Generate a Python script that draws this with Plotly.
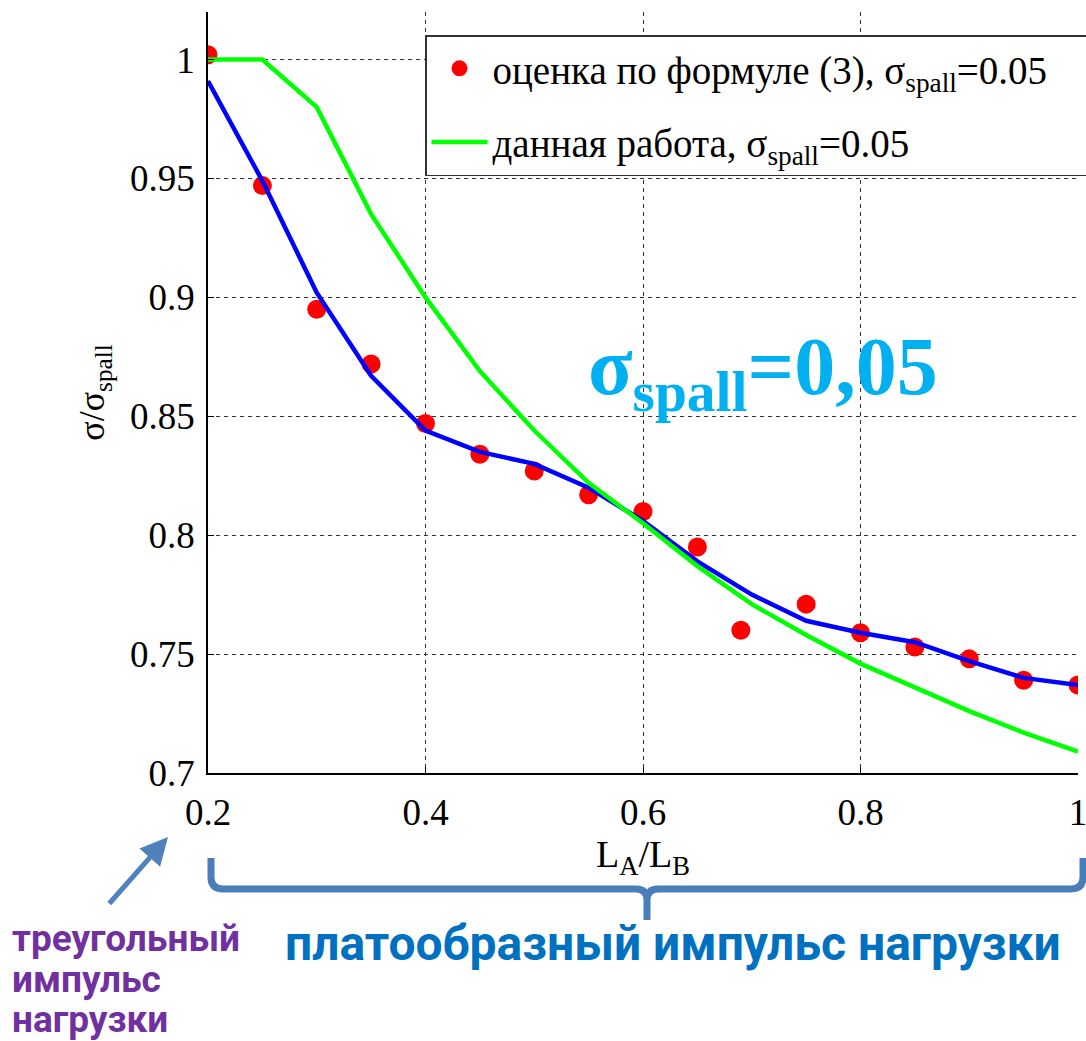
import plotly.graph_objects as go

# ---------------- data ----------------
x_est = [0.2, 0.25, 0.3, 0.35, 0.4, 0.45, 0.5, 0.55, 0.6, 0.65, 0.69, 0.75, 0.8, 0.85, 0.9, 0.95, 1.0]
y_est = [1.002, 0.947, 0.895, 0.872, 0.847, 0.834, 0.827, 0.817, 0.810, 0.795, 0.760, 0.771, 0.759, 0.753, 0.748, 0.739, 0.737]

x_line = [0.2, 0.25, 0.3, 0.35, 0.4, 0.45, 0.5, 0.55, 0.6, 0.65, 0.7, 0.75, 0.8, 0.85, 0.9, 0.95, 1.0]
y_blue = [0.991, 0.949, 0.902, 0.867, 0.844, 0.835, 0.830, 0.820, 0.806, 0.789, 0.775, 0.764, 0.759, 0.755, 0.747, 0.740, 0.737]
y_green = [1.0, 1.0, 0.980, 0.935, 0.900, 0.869, 0.844, 0.822, 0.805, 0.787, 0.771, 0.758, 0.746, 0.736, 0.726, 0.717, 0.709]

name_est = "оценка по формуле (3), σ<sub>spall</sub>=0.05&nbsp;&nbsp;&nbsp;&nbsp;"
name_green = "данная работа, σ<sub>spall</sub>=0.05"

# ---------------- layout helpers (pixel -> paper) ----------------
W, H = 1086, 1041
L, R, T, B = 208, 8, 12, 268
PW, PH = W - L - R, H - T - B


def px(x):
    return (x - L) / PW


def py(y):
    return (H - B - y) / PH


SERIF = "Liberation Serif"
SANS = "Roboto"

fig = go.Figure()
fig.add_trace(go.Scatter(
    x=x_est, y=y_est, mode="markers", name=name_est,
    marker=dict(color="#FF0000", size=19, line=dict(width=0)),
    legendgroup="a",
))
fig.add_trace(go.Scatter(
    x=x_line, y=y_blue, mode="lines", showlegend=False,
    line=dict(color="#0000FF", width=4.5),
))
fig.add_trace(go.Scatter(
    x=x_line, y=y_green, mode="lines", name=name_green,
    line=dict(color="#00FF00", width=4.5),
    legendgroup="b",
))

axis_common = dict(
    showline=True, linecolor="black", linewidth=1.5, mirror=False,
    showgrid=True, gridcolor="#333333", gridwidth=1, griddash="4px,4px",
    zeroline=False, ticks="inside", ticklen=6, tickcolor="black",
    tickfont=dict(family=SERIF, size=37, color="black"),
    ticklabeloverflow="allow", automargin=False,
)

fig.update_xaxes(
    range=[0.2, 1.0], dtick=0.2, tick0=0.2,
    title=dict(text="L<sub>A</sub>/L<sub>B</sub>", font=dict(family=SERIF, size=38, color="black"), standoff=6),
    ticklabelstandoff=6,
    **axis_common,
)
fig.update_yaxes(
    range=[0.7, 1.02], dtick=0.05, tick0=0.7,
    title=dict(text="σ/σ<sub>spall</sub>", font=dict(family=SERIF, size=36, color="black"), standoff=14),
    ticklabelstandoff=4,
    **axis_common,
)

fig.update_layout(
    width=W, height=H,
    margin=dict(l=L, r=R, t=T, b=B, autoexpand=False),
    paper_bgcolor="white", plot_bgcolor="white",
    legend=dict(
        x=px(425), y=py(35), xanchor="left", yanchor="top",
        bgcolor="white", bordercolor="#333333", borderwidth=1.5,
        font=dict(family=SERIF, size=39, color="black"),
        traceorder="grouped", tracegroupgap=20,
        itemwidth=56,
    ),
    shapes=[
        dict(
            type="path", xref="paper", yref="paper",
            path=(
                f"M {px(211)},{py(858)} L {px(211)},{py(877)} "
                f"Q {px(211)},{py(889)} {px(223)},{py(889)} "
                f"L {px(636)},{py(889)} Q {px(647)},{py(889)} {px(647)},{py(900)} "
                f"L {px(647)},{py(920)} M {px(647)},{py(900)} "
                f"Q {px(647)},{py(889)} {px(658)},{py(889)} "
                f"L {px(1071)},{py(889)} Q {px(1083)},{py(889)} {px(1083)},{py(877)} "
                f"L {px(1083)},{py(858)}"
            ),
            line=dict(color="#4A7EBB", width=7),
        ),
    ],
    annotations=[
        dict(
            text="<b>σ<sub>spall</sub>=0,05</b>", xref="paper", yref="paper",
            x=px(586), y=py(372), xanchor="left", yanchor="middle",
            showarrow=False, font=dict(family=SERIF, size=82, color="#00B0F0"),
        ),
        dict(
            text="", xref="paper", yref="paper", x=px(168), y=py(837),
            showarrow=True, ax=-60, ay=68, axref="pixel", ayref="pixel",
            arrowhead=2, arrowsize=1.1, arrowwidth=5, arrowcolor="#4F81BD",
        ),
        dict(
            text="<b>треугольный</b>", xref="paper", yref="paper",
            x=px(10), y=py(938), xanchor="left", yanchor="middle",
            showarrow=False, font=dict(family=SANS, size=37, color="#7030A0"),
        ),
        dict(
            text="<b>импульс</b>", xref="paper", yref="paper",
            x=px(10), y=py(980), xanchor="left", yanchor="middle",
            showarrow=False, font=dict(family=SANS, size=37, color="#7030A0"),
        ),
        dict(
            text="<b>нагрузки</b>", xref="paper", yref="paper",
            x=px(10), y=py(1019), xanchor="left", yanchor="middle",
            showarrow=False, font=dict(family=SANS, size=37, color="#7030A0"),
        ),
        dict(
            text="<b>платообразный импульс нагрузки</b>", xref="paper", yref="paper",
            x=px(673), y=py(943), xanchor="center", yanchor="middle",
            showarrow=False, font=dict(family=SANS, size=48, color="#0070C0"),
        ),
    ],
)

fig.write_html("out.html")
